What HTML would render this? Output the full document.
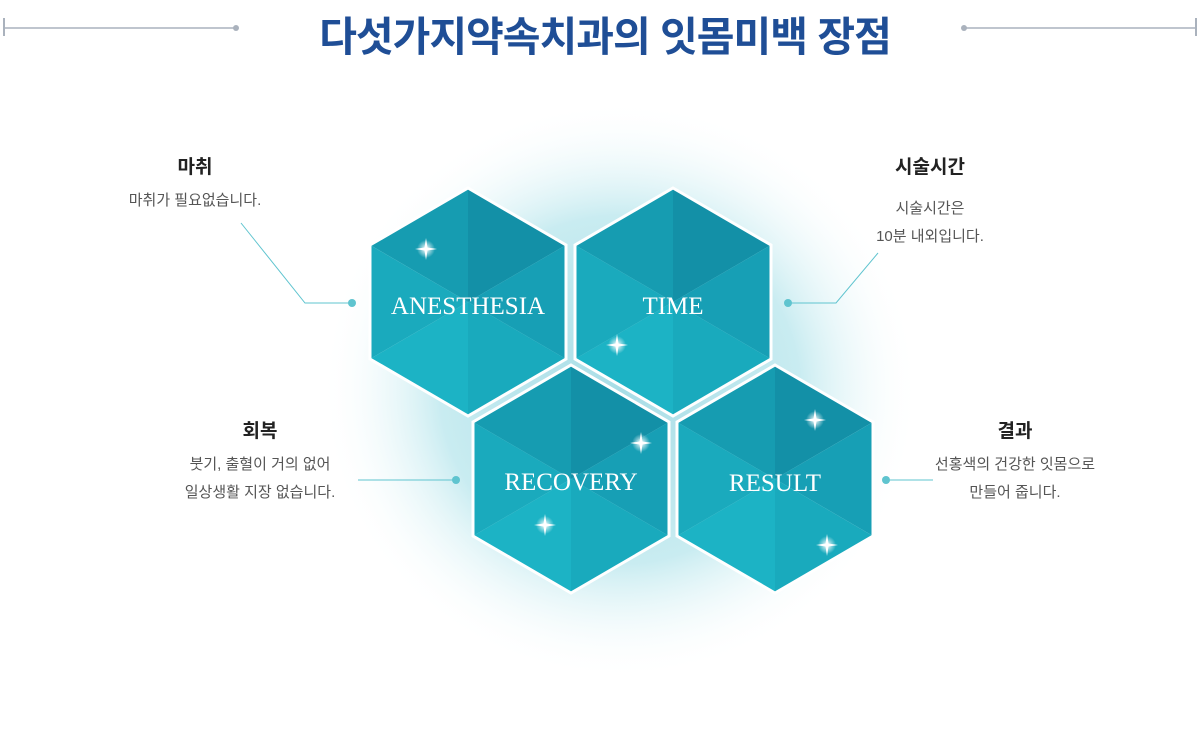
<!DOCTYPE html>
<html><head><meta charset="utf-8"><style>
body{margin:0;width:1200px;height:755px;background:#fff;overflow:hidden;position:relative;font-family:"Liberation Sans","Noto Sans CJK KR",sans-serif}
.t{position:absolute;text-align:center;color:#222}
.h{font-size:19px;font-weight:bold;color:#222}
.d{font-size:15px;color:#555;line-height:28px;margin-top:8px}
</style></head><body>
<svg width="1200" height="755" style="position:absolute;left:0;top:0">
<defs>
<radialGradient id="g" cx="0.5" cy="0.5" r="0.5">
<stop offset="0" stop-color="#a8dde6"/><stop offset="0.6" stop-color="#c9ecf1"/><stop offset="1" stop-color="#fff" stop-opacity="0"/>
</radialGradient>
<radialGradient id="s"><stop offset="0" stop-color="#fff"/><stop offset="1" stop-color="#fff" stop-opacity="0"/></radialGradient>
<g id="hex">
<polygon points="0,-114 -98,-57 0,0" fill="#169cb1"/>
<polygon points="0,-114 98,-57 0,0" fill="#1390a7"/>
<polygon points="98,-57 98,57 0,0" fill="#179fb5"/>
<polygon points="98,57 0,114 0,0" fill="#19aabd"/>
<polygon points="0,114 -98,57 0,0" fill="#1cb3c5"/>
<polygon points="-98,57 -98,-57 0,0" fill="#1aaabd"/>
<polygon points="0,-114 98,-57 98,57 0,114 -98,57 -98,-57" fill="none" stroke="#fff" stroke-width="3"/>
</g>
<g id="sp"><circle r="9" fill="url(#s)"/><path d="M0,-11 L1.5,-1.5 L11,0 L1.5,1.5 L0,11 L-1.5,1.5 L-11,0 L-1.5,-1.5Z" fill="#fff"/></g>
</defs>
<ellipse cx="620" cy="390" rx="300" ry="290" fill="url(#g)"/>
<line x1="4" y1="28" x2="236" y2="28" stroke="#aab2bd" stroke-width="1.5"/>
<line x1="4" y1="18" x2="4" y2="36" stroke="#aab2bd" stroke-width="2"/>
<circle cx="236" cy="28" r="3" fill="#aab2bd"/>
<line x1="964" y1="28" x2="1196" y2="28" stroke="#aab2bd" stroke-width="1.5"/>
<line x1="1196" y1="18" x2="1196" y2="36" stroke="#aab2bd" stroke-width="2"/>
<circle cx="964" cy="28" r="3" fill="#aab2bd"/>
<use href="#hex" x="468" y="302"/>
<use href="#hex" x="673" y="302"/>
<use href="#hex" x="571" y="479"/>
<use href="#hex" x="775" y="479"/>
<use href="#sp" x="426" y="249"/><use href="#sp" x="617" y="345"/>
<use href="#sp" x="641" y="443"/><use href="#sp" x="545" y="525"/>
<use href="#sp" x="815" y="420"/><use href="#sp" x="827" y="545"/>
<g font-family="Liberation Serif,serif" font-size="25" fill="#fff" text-anchor="middle">
<text x="468" y="314">ANESTHESIA</text><text x="673" y="314">TIME</text>
<text x="571" y="490">RECOVERY</text><text x="775" y="491">RESULT</text></g>
<g stroke="#5fc4cf" stroke-width="1" fill="none">
<polyline points="241,223 305,303 352,303"/>
<polyline points="878,253 836,303 788,303"/>
<line x1="358" y1="480" x2="456" y2="480"/>
<line x1="886" y1="480" x2="933" y2="480"/>
</g>
<g fill="#5fc4cf"><circle cx="352" cy="303" r="4"/><circle cx="788" cy="303" r="4"/><circle cx="456" cy="480" r="4"/><circle cx="886" cy="480" r="4"/></g>
</svg>
<div class="t" style="left:200px;top:3px;width:810px;font-size:41px;font-weight:bold;color:#1f4e96;letter-spacing:-1px">다섯가지약속치과의 잇몸미백 장점</div>
<div class="t" style="left:95px;top:152px;width:200px"><div class="h">마취</div><div class="d">마취가 필요없습니다.</div></div>
<div class="t" style="left:830px;top:152px;width:200px"><div class="h">시술시간</div><div class="d" style="margin-top:16px">시술시간은<br>10분 내외입니다.</div></div>
<div class="t" style="left:145px;top:416px;width:230px"><div class="h">회복</div><div class="d">붓기, 출혈이 거의 없어<br>일상생활 지장 없습니다.</div></div>
<div class="t" style="left:900px;top:416px;width:230px"><div class="h">결과</div><div class="d">선홍색의 건강한 잇몸으로<br>만들어 줍니다.</div></div>
</body></html>
